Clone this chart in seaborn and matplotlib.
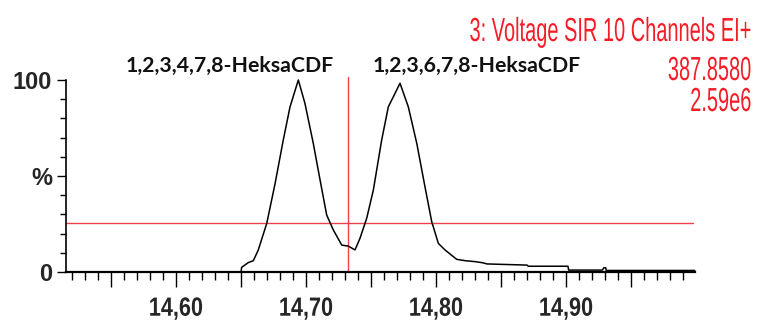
import numpy as np
import pandas as pd
import matplotlib
matplotlib.use("Agg")
import matplotlib.pyplot as plt
import seaborn as sns
from matplotlib.patheffects import AbstractPathEffect
from matplotlib.transforms import Affine2D
from matplotlib.ticker import FixedLocator, MultipleLocator

# Retention time (min) and relative intensity (%) of the 387.8580 trace
rt = [14.515, 14.600, 14.650, 14.6505, 14.6556, 14.6595, 14.6633, 14.6698,
      14.6762, 14.6825, 14.6877, 14.6941, 14.6992, 14.7056, 14.7108, 14.7159,
      14.7210, 14.7275, 14.7325, 14.7377, 14.7415, 14.7467, 14.7518, 14.7582,
      14.7633, 14.7672, 14.7723, 14.7787, 14.7852, 14.7915, 14.7967, 14.8018,
      14.8069, 14.8159, 14.8223, 14.8300, 14.8360, 14.8392, 14.8700, 14.8710,
      14.9015, 14.9020, 14.9280, 14.9290, 14.9305, 14.9310, 14.9990]
intensity = [0.0, 0.0, 0.0, 2.4, 4.9, 5.9, 11.5, 25.3,
             46.0, 68.7, 86.0, 100.0, 87.8, 67.0, 48.0, 29.7,
             21.9, 14.0, 13.5, 11.5, 17.5, 28.0, 42.7, 68.7,
             86.0, 91.3, 98.3, 86.0, 67.0, 44.4, 26.2, 14.9,
             11.5, 6.6, 5.9, 5.4, 4.8, 4.2, 3.6, 3.0,
             3.0, 1.0, 1.0, 2.2, 2.2, 0.8, 0.8]

peak_names = ["1,2,3,4,7,8-HeksaCDF", "1,2,3,6,7,8-HeksaCDF"]
peak_label_rt = [14.6415, 14.8315]

header_lines = ["3: Voltage SIR 10 Channels EI+", "387.8580", "2.59e6"]

x_major = [14.55, 14.60, 14.65, 14.70, 14.75, 14.80, 14.85, 14.90, 14.95]
x_labels = ["", "14,60", "", "14,70", "", "14,80", "", "14,90", ""]
y_major = [0, 50, 100]
y_labels = ["0", "%", "100"]

marker_rt = 14.732
threshold = 25.5


class Squeeze(AbstractPathEffect):
    """Draw text glyphs compressed horizontally (condensed look)."""

    def __init__(self, sx, anchor="center"):
        super().__init__()
        self.sx = sx
        self.anchor = anchor

    def draw_path(self, renderer, gc, tpath, affine, rgbFace=None):
        xs = tpath.vertices[:, 0]
        xmax = xs.max() if len(xs) else 0.0
        x0 = {"left": 0.0, "right": xmax, "center": 0.5 * xmax}[self.anchor]
        aff = Affine2D().translate(-x0, 0).scale(self.sx, 1).translate(x0, 0) + affine
        renderer.draw_path(gc, tpath, aff, rgbFace)


sns.set_style("white")
plt.rcParams["font.family"] = ["Liberation Sans", "DejaVu Sans"]

W, H = 757, 320
fig = plt.figure(figsize=(W / 100, H / 100), dpi=100)
ax = fig.add_axes([66 / W, 48 / H, 629 / W, 192 / H])

df = pd.DataFrame({"rt": rt, "intensity": intensity})
sns.lineplot(data=df, x="rt", y="intensity", ax=ax, color="black",
             linewidth=1.1, estimator=None, sort=False, clip_on=False)

ax.set_xlim(14.5154, 14.9992)
ax.set_ylim(0, 100)
ax.set_xlabel("")
ax.set_ylabel("")

line_red = "#f0404c"
ax.axhline(threshold, xmin=0, xmax=0.997, color=line_red, lw=1.0, zorder=1)
ax.axvline(marker_rt, ymin=0, ymax=1.015, color=line_red, lw=1.0,
           zorder=1, clip_on=False)

for s in ["top", "right"]:
    ax.spines[s].set_visible(False)
ax.spines["bottom"].set_linewidth(1.6)
ax.spines["left"].set_linewidth(1.2)
for s in ["bottom", "left"]:
    ax.spines[s].set_color("black")

ax.xaxis.set_major_locator(FixedLocator(x_major))
ax.set_xticklabels(x_labels)
ax.xaxis.set_minor_locator(MultipleLocator(0.01))
ax.yaxis.set_major_locator(FixedLocator(y_major))
ax.set_yticklabels(y_labels)
ax.yaxis.set_minor_locator(MultipleLocator(10))

ax.tick_params(axis="x", which="major", direction="out", length=10.8,
               width=1.0, color="black", pad=7, labelsize=19, bottom=True)
ax.tick_params(axis="x", which="minor", direction="out", length=5.8,
               width=1.0, color="black", bottom=True)
ax.tick_params(axis="y", which="major", direction="out", length=6.5,
               width=1.0, color="black", pad=3.6, labelsize=17, left=True)
ax.tick_params(axis="y", which="minor", direction="out", length=4.3,
               width=1.0, color="black", left=True)

for t in ax.get_xticklabels():
    t.set_fontweight("bold")
    t.set_path_effects([Squeeze(0.82, "center")])
for t in ax.get_yticklabels():
    t.set_fontweight("bold")

for name, xpos in zip(peak_names, peak_label_rt):
    ax.text(xpos, 107.3, name, ha="center", va="center", fontsize=15.3,
            fontweight="bold", family=["Lato", "DejaVu Sans"], color="#111111",
            clip_on=False)

text_red = "#f41c26"
baselines = [41, 80, 111]
for line, yb in zip(header_lines, baselines):
    fig.text(752 / W, 1 - yb / H, line, ha="right", va="baseline",
             fontsize=24, color=text_red,
             path_effects=[Squeeze(0.6, "right")])

fig.savefig("out.png", dpi=100)
